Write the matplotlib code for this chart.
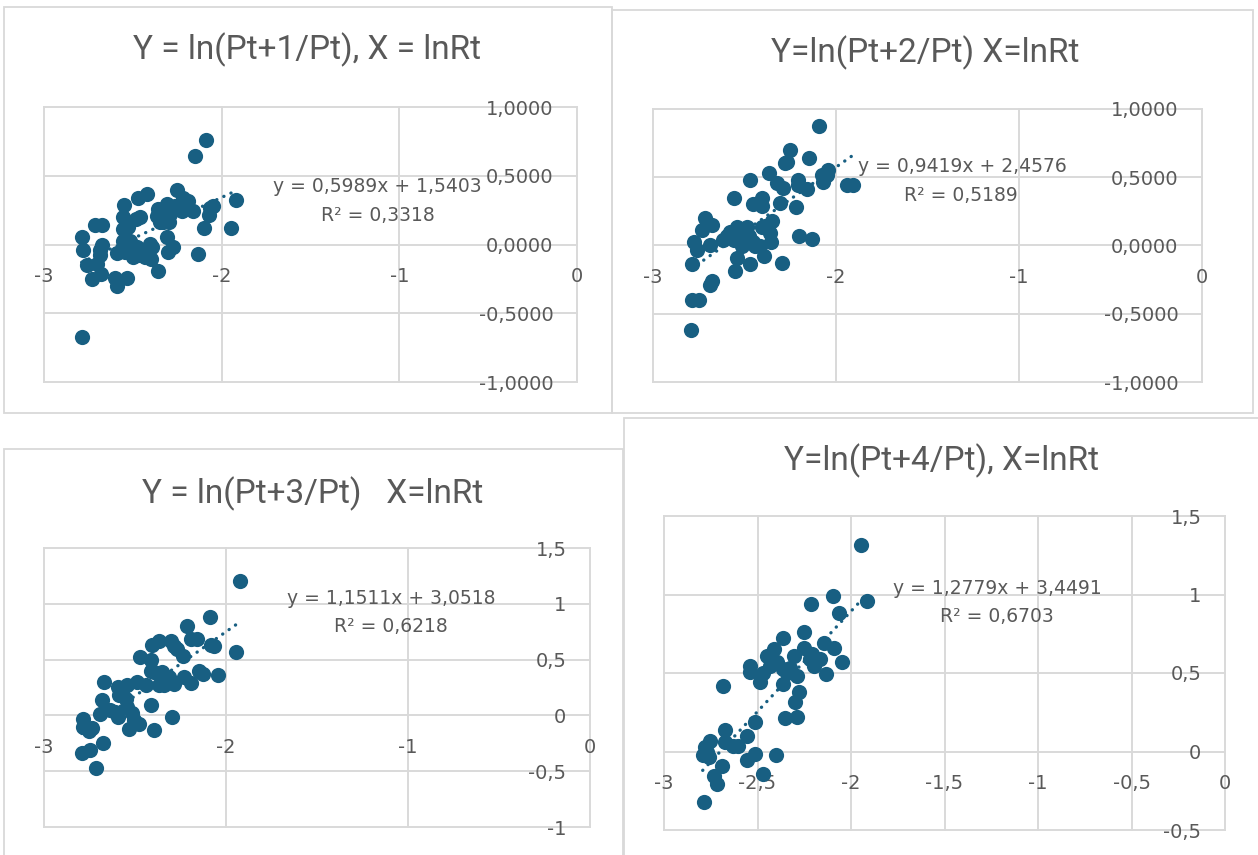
import numpy as np
import matplotlib
matplotlib.use("Agg")
import matplotlib.pyplot as plt
from matplotlib.patches import Rectangle
from matplotlib.ticker import FuncFormatter

# ---------------- data ----------------
titles = ["Y = ln(Pt+1/Pt), X = lnRt",
          "Y=ln(Pt+2/Pt) X=lnRt",
          "Y = ln(Pt+3/Pt)   X=lnRt",
          "Y=ln(Pt+4/Pt), X=lnRt"]

slopes = [0.5989, 0.9419, 1.1511, 1.2779]
intercepts = [1.5403, 2.4576, 3.0518, 3.4491]
r2_values = [0.3318, 0.5189, 0.6218, 0.6703]

x1 = [-2.090, -2.152, -2.788, -1.919, -1.947, -2.135, -2.099, -2.069, -2.051, -2.253,
      -2.216, -2.159, -2.197, -2.418, -2.469, -2.550, -2.557, -2.553, -2.482, -2.713,
      -2.675, -2.784, -2.782, -2.675, -2.685, -2.756, -2.730, -2.681, -2.600, -2.591,
      -2.531, -2.587, -2.516, -2.469, -2.394, -2.400, -2.360, -2.310, -2.300, -2.272,
      -2.347, -2.295, -2.356, -2.310, -2.263, -2.516, -2.478, -2.441, -2.553, -2.497,
      -2.432, -2.403, -2.685, -2.704, -2.291, -2.225, -2.188, -2.066, -2.525, -2.460,
      -2.366, -2.328, -2.544]
y1 = [0.760, 0.645, -0.671, 0.326, 0.117, -0.067, 0.118, 0.213, 0.281, 0.400,
      0.341, 0.245, 0.269, 0.365, 0.336, 0.288, 0.197, 0.113, 0.185, 0.144,
      0.144, 0.053, -0.038, -0.007, -0.079, -0.146, -0.252, -0.211, -0.247, -0.302,
      -0.242, -0.062, -0.019, -0.079, -0.019, -0.103, -0.194, 0.053, -0.055, -0.019,
      0.161, 0.161, 0.257, 0.293, 0.281, 0.029, -0.019, -0.055, 0.029, -0.091,
      -0.091, 0.005, -0.043, -0.139, 0.221, 0.245, 0.317, 0.269, 0.125, 0.197,
      0.209, 0.161, -0.055]

x2 = [-2.093, -2.251, -2.269, -2.147, -2.042, -2.078, -2.069, -1.942, -1.909, -2.205,
      -2.160, -2.200, -2.133, -2.364, -2.324, -2.287, -2.469, -2.555, -2.451, -2.405,
      -2.305, -2.218, -2.351, -2.405, -2.355, -2.442, -2.478, -2.542, -2.596, -2.560,
      -2.524, -2.515, -2.715, -2.678, -2.733, -2.778, -2.760, -2.687, -2.787, -2.542,
      -2.551, -2.469, -2.396, -2.296, -2.678, -2.687, -2.787, -2.751, -2.793, -2.451,
      -2.487, -2.578, -2.615, -2.415, -2.387, -2.205, -2.051, -2.405, -2.278, -2.360]
y2 = [0.878, 0.700, 0.615, 0.644, 0.554, 0.517, 0.468, 0.444, 0.444, 0.480,
      0.412, 0.071, 0.046, 0.529, 0.456, 0.420, 0.480, 0.346, 0.305, 0.346,
      0.310, 0.285, 0.176, 0.139, 0.029, -0.007, 0.066, 0.139, 0.066, 0.041,
      0.090, -0.007, 0.200, 0.151, 0.115, 0.029, -0.032, 0.005, -0.134, -0.093,
      -0.190, -0.134, -0.076, -0.129, -0.263, -0.288, -0.398, -0.398, -0.622, 0.029,
      0.139, 0.102, 0.041, -0.007, 0.144, 0.444, 0.517, 0.290, 0.602, 0.090]

x3 = [-1.921, -1.945, -2.088, -2.212, -2.193, -2.157, -2.083, -2.064, -2.368, -2.304,
      -2.405, -2.267, -2.239, -2.470, -2.411, -2.396, -2.350, -2.313, -2.285, -2.368,
      -2.230, -2.193, -2.147, -2.129, -2.042, -2.672, -2.595, -2.543, -2.488, -2.442,
      -2.552, -2.681, -2.691, -2.608, -2.595, -2.516, -2.506, -2.479, -2.534, -2.411,
      -2.295, -2.396, -2.783, -2.783, -2.737, -2.755, -2.676, -2.792, -2.750, -2.715,
      -2.571, -2.414, -2.322, -2.543, -2.635, -2.285, -2.589, -2.341]
y3 = [1.205, 0.565, 0.878, 0.798, 0.685, 0.685, 0.631, 0.625, 0.670, 0.670,
      0.631, 0.595, 0.536, 0.521, 0.500, 0.387, 0.387, 0.342, 0.283, 0.268,
      0.342, 0.292, 0.402, 0.372, 0.363, 0.298, 0.253, 0.268, 0.298, 0.268,
      0.149, 0.134, 0.015, 0.030, -0.015, 0.024, -0.045, -0.074, -0.119, 0.089,
      -0.015, -0.134, -0.030, -0.104, -0.113, -0.143, -0.244, -0.333, -0.313, -0.470,
      0.223, 0.402, 0.327, 0.074, 0.045, 0.625, 0.179, 0.268]

x4 = [-1.946, -2.096, -1.914, -2.212, -2.066, -2.254, -2.364, -2.146, -2.093, -2.250,
      -2.048, -2.414, -2.450, -2.307, -2.209, -2.164, -2.200, -2.132, -2.539, -2.539,
      -2.468, -2.396, -2.361, -2.289, -2.486, -2.361, -2.682, -2.280, -2.298, -2.289,
      -2.355, -2.512, -2.673, -2.557, -2.602, -2.673, -2.754, -2.780, -2.793, -2.762,
      -2.512, -2.554, -2.400, -2.691, -2.471, -2.730, -2.718, -2.784, -2.432, -2.325,
      -2.629, -2.771, -2.343, -2.218]
y4 = [1.317, 0.989, 0.958, 0.937, 0.884, 0.761, 0.725, 0.693, 0.662, 0.662,
      0.571, 0.651, 0.609, 0.609, 0.619, 0.588, 0.545, 0.493, 0.545, 0.507,
      0.503, 0.567, 0.524, 0.482, 0.440, 0.429, 0.419, 0.376, 0.313, 0.218,
      0.214, 0.190, 0.140, 0.101, 0.038, 0.059, 0.070, 0.027, -0.025, -0.036,
      -0.015, -0.051, -0.025, -0.093, -0.142, -0.159, -0.205, -0.321, 0.545, 0.535,
      0.038, -0.004, 0.503, 0.588]

xs_all = [x1, x2, x3, x4]
ys_all = [y1, y2, y3, y4]

xticks_a = [-3, -2, -1, 0]
xticks_b = [-3, -2.5, -2, -1.5, -1, -0.5, 0]
yticks_a = [-1, -0.5, 0, 0.5, 1]
yticks_c = [-1, -0.5, 0, 0.5, 1, 1.5]
yticks_d = [-0.5, 0, 0.5, 1, 1.5]

# ---------------- style ----------------
W, H = 1258, 855
DOT = "#185f82"
GRID = "#d9d9d9"
TXT = "#595959"
plt.rcParams["font.family"] = ["DejaVu Sans"]

fig = plt.figure(figsize=(W / 100, H / 100), dpi=100)
fig.patch.set_facecolor("white")


def fx(px):
    return px / W


def fy(py):
    return 1 - py / H


def frame(x0, y0, x1_, y1_):
    fig.add_artist(Rectangle((fx(x0), fy(y1_)), fx(x1_ - x0), (y1_ - y0) / H,
                             transform=fig.transFigure, fill=False,
                             ec=GRID, lw=1.3))


# panel frames
frame(4, 7, 612, 413)
frame(612, 10, 1253, 413)
frame(4, 449, 623, 870)
frame(624, 418, 1270, 870)

fmt4 = FuncFormatter(lambda v, p: f"{v:.4f}".replace(".", ","))
fmtg = FuncFormatter(lambda v, p: f"{v:g}".replace(".", ","))

panels = [
    dict(rect=(44, 107, 577, 382), ylim=(-1, 1), xt=xticks_a, yt=yticks_a, yf=fmt4,
         title_xy=(307, 50), eq_xy=(377, 187), r2_xy=(378, 215)),
    dict(rect=(653, 109, 1202, 382), ylim=(-1, 1), xt=xticks_a, yt=yticks_a, yf=fmt4,
         title_xy=(925, 53), eq_xy=(962, 167), r2_xy=(961, 195)),
    dict(rect=(44, 548, 590, 827), ylim=(-1, 1.5), xt=xticks_a, yt=yticks_c, yf=fmtg,
         title_xy=(313, 494), eq_xy=(391, 598), r2_xy=(391, 627)),
    dict(rect=(664, 516, 1225, 830), ylim=(-0.5, 1.5), xt=xticks_b, yt=yticks_d, yf=fmtg,
         title_xy=(942, 461), eq_xy=(997, 588), r2_xy=(997, 617)),
]

for i, pn in enumerate(panels):
    l, t, r, b = pn["rect"]
    ax = fig.add_axes([fx(l), fy(b), (r - l) / W, (b - t) / H])
    ax.set_facecolor("none")
    ax.set_xlim(-3, 0)
    ax.set_ylim(*pn["ylim"])
    ax.set_xticks(pn["xt"])
    ax.set_yticks(pn["yt"])
    ax.xaxis.set_major_formatter(fmtg)
    ax.yaxis.set_major_formatter(pn["yf"])
    ax.grid(True, color=GRID, lw=1.4)
    ax.set_axisbelow(True)
    for s in ax.spines.values():
        s.set_visible(False)
    ax.spines["left"].set_position(("data", 0))
    ax.spines["bottom"].set_position(("data", 0))
    ax.tick_params(axis="both", length=0, colors=TXT, labelsize=14)
    ax.tick_params(axis="x", pad=16)
    ax.tick_params(axis="y", pad=17)
    for g in ax.get_xgridlines() + ax.get_ygridlines():
        g.set_clip_on(False)

    x = np.array(xs_all[i])
    y = np.array(ys_all[i])
    ax.scatter(x, y, s=120, color=DOT, linewidths=0, zorder=3, clip_on=False)
    xl = np.array([x.min(), x.max()])
    ax.plot(xl, slopes[i] * xl + intercepts[i], color=DOT, lw=2.4,
            ls=(0, (0.05, 2.3)), dash_capstyle="round", zorder=4)

    fig.text(fx(pn["title_xy"][0]), fy(pn["title_xy"][1]), titles[i],
             ha="center", va="center", fontsize=24, color=TXT,
             family=["Roboto", "DejaVu Sans"])
    eq = f"y = {slopes[i]:.4f}x + {intercepts[i]:.4f}".replace(".", ",")
    fig.text(fx(pn["eq_xy"][0]), fy(pn["eq_xy"][1]), eq, ha="center", va="center",
             fontsize=13.5, color=TXT, zorder=5)
    r2 = f"R² = {r2_values[i]:.4f}".replace(".", ",")
    fig.text(fx(pn["r2_xy"][0]), fy(pn["r2_xy"][1]), r2, ha="center", va="center",
             fontsize=13.5, color=TXT, zorder=5)

fig.savefig("out.png", dpi=100, facecolor="white")
